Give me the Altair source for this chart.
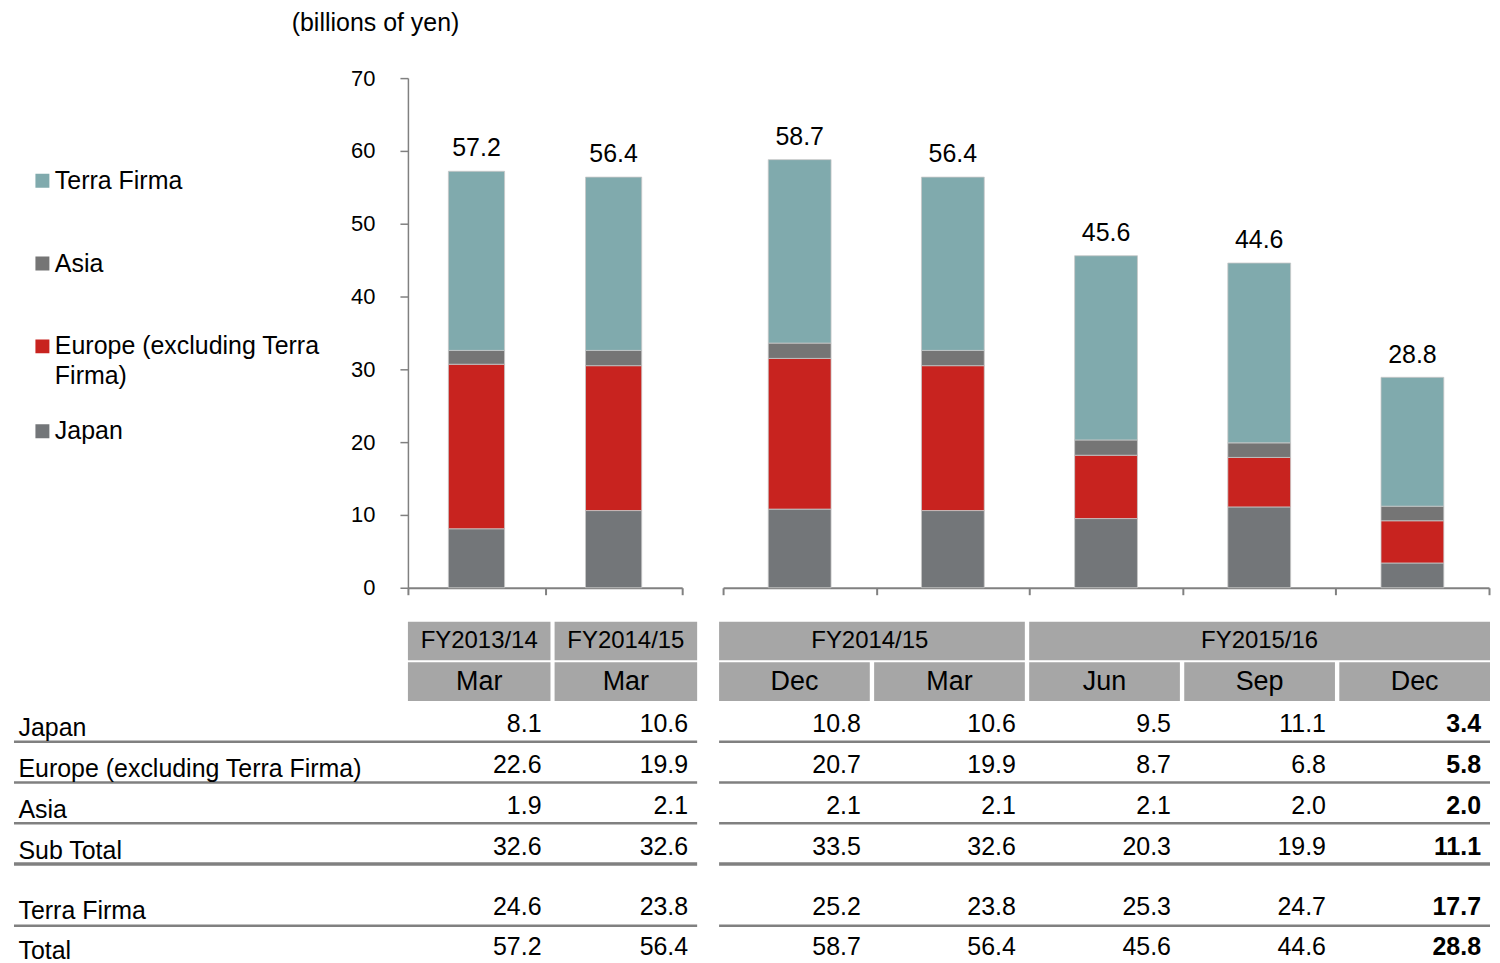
import altair as alt
import pandas as pd

FONT = "Liberation Sans"
GRAY = "#808080"
CELL = "#a6a6a6"
TEXT = "#000000"

# ---------------- data ----------------
fiscal_years = ["FY2013/14", "FY2014/15", "FY2014/15", "FY2014/15", "FY2015/16", "FY2015/16", "FY2015/16"]
months = ["Mar", "Mar", "Dec", "Mar", "Jun", "Sep", "Dec"]
panels = ["L", "L", "R", "R", "R", "R", "R"]
japan = [8.1, 10.6, 10.8, 10.6, 9.5, 11.1, 3.4]
europe = [22.6, 19.9, 20.7, 19.9, 8.7, 6.8, 5.8]
asia = [1.9, 2.1, 2.1, 2.1, 2.1, 2.0, 2.0]
sub_total = [32.6, 32.6, 33.5, 32.6, 20.3, 19.9, 11.1]
terra_firma = [24.6, 23.8, 25.2, 23.8, 25.3, 24.7, 17.7]
total = [57.2, 56.4, 58.7, 56.4, 45.6, 44.6, 28.8]
bold_column = [False, False, False, False, False, False, True]

series_names = ["Japan", "Europe (excluding Terra Firma)", "Asia", "Terra Firma"]  # bottom -> top
series_values = [japan, europe, asia, terra_firma]
series_colors = ["#737679", "#c8231f", "#757575", "#80aaad"]
legend_order = ["Terra Firma", "Asia", "Europe (excluding Terra Firma)", "Japan"]

table_rows = [
    ("Japan", japan),
    ("Europe (excluding Terra Firma)", europe),
    ("Asia", asia),
    ("Sub Total", sub_total),
    ("Terra Firma", terra_firma),
    ("Total", total),
]

# ---------------- tables built from the arrays ----------------
n = len(months)
col_keys = [f"{fiscal_years[i]} {months[i]} #{i}" for i in range(n)]
color_map = dict(zip(series_names, series_colors))


def panel_keys(p):
    return [k for k, q in zip(col_keys, panels) if q == p]


bar_records = []
for i, key in enumerate(col_keys):
    for s_idx, (name, vals) in enumerate(zip(series_names, series_values)):
        bar_records.append(dict(col=key, panel=panels[i], series=name, value=vals[i], stack_order=s_idx))
bar_df = pd.DataFrame(bar_records)
tot_df = pd.DataFrame(dict(col=col_keys, panel=panels, total=total))

val_records = []
for rname, vals in table_rows:
    for i, key in enumerate(col_keys):
        val_records.append(dict(row=rname, col=key, panel=panels[i], text=f"{vals[i]:.1f}", bold=bold_column[i]))
val_df = pd.DataFrame(val_records)

hdr_records = []
for i, key in enumerate(col_keys):
    hdr_records.append(dict(row="hdr2", panel=panels[i], start=key, end=key, label=months[i], anchor=key, band=0.5))
i = 0
while i < n:
    j = i
    while j + 1 < n and fiscal_years[j + 1] == fiscal_years[i] and panels[j + 1] == panels[i]:
        j += 1
    span = col_keys[i:j + 1]
    m = len(span)
    if m % 2:
        anchor, band = span[m // 2], 0.5
    else:
        anchor, band = span[m // 2 - 1], 1.0
    hdr_records.append(dict(row="hdr1", panel=panels[i], start=span[0], end=span[-1],
                            label=fiscal_years[i], anchor=anchor, band=band))
    i = j + 1
hdr_df = pd.DataFrame(hdr_records)


# ---------------- bar panels ----------------
def bar_panel(panel, width, first):
    keys = panel_keys(panel)
    xs = alt.Scale(type="band", domain=keys, paddingInner=0, paddingOuter=0)
    ys = alt.Scale(domain=[0, 70], nice=False)
    xaxis = alt.Axis(title=None, labels=False, tickBand="extent", tickSize=7, tickWidth=2,
                     tickColor=GRAY, domainColor=GRAY, domainWidth=2, grid=False)
    if first:
        yaxis = alt.Axis(values=list(range(0, 71, 10)), title="(billions of yen)", titleAngle=0,
                         titleX=-33, titleY=-56, titleAlign="center", titleBaseline="middle",
                         titleFontSize=25, titleFontWeight="normal", titleColor=TEXT,
                         labelFontSize=22, labelColor=TEXT, labelPadding=25, tickSize=8,
                         tickWidth=1.5, tickColor=GRAY, domainColor=GRAY, domainWidth=1.5, grid=False)
        legend = alt.Legend(title=None, orient="none", legendX=-379, legendY=61.5,
                            symbolType="square", symbolSize=196, symbolStrokeWidth=0,
                            labelFontSize=25, labelColor=TEXT, labelOffset=0, labelLimit=500,
                            clipHeight=83, rowPadding=0, padding=0,
                            labelExpr="datum.label == 'Europe (excluding Terra Firma)' ? "
                                      "['Europe (excluding Terra', 'Firma)'] : datum.label")
    else:
        yaxis = None
        legend = None
    bars = alt.Chart(bar_df[bar_df.panel == panel]).mark_bar(
        width=alt.RelativeBandSize(0.41), stroke="#c8c8c8", strokeWidth=0.8
    ).encode(
        x=alt.X("col:N", scale=xs, axis=xaxis),
        y=alt.Y("value:Q", scale=ys, axis=yaxis, stack="zero"),
        color=alt.Color("series:N", scale=alt.Scale(domain=legend_order,
                                                    range=[color_map[s] for s in legend_order]),
                        legend=legend),
        order=alt.Order("stack_order:Q", sort="ascending"),
    )
    labels = alt.Chart(tot_df[tot_df.panel == panel]).mark_text(
        fontSize=25, color=TEXT, baseline="alphabetic", dy=-15
    ).encode(
        x=alt.X("col:N", scale=xs, axis=xaxis),
        y=alt.Y("total:Q", scale=ys, axis=yaxis),
        text=alt.Text("total:Q", format=".1f"),
    )
    return alt.layer(bars, labels).properties(width=width, height=511)


# ---------------- table panels ----------------
def table_panel(panel, rows, width, height, show_labels, rule_rows, label_offset, text_dy):
    keys = panel_keys(panel)
    xs = alt.Scale(type="band", domain=keys, paddingInner=0.028, paddingOuter=0)
    ys = alt.Scale(type="band", domain=rows, paddingInner=0.05, paddingOuter=0)
    if show_labels:
        yaxis = alt.Axis(title=None, ticks=False, domain=False, labelAlign="left", labelPadding=391,
                         labelFontSize=25, labelColor=TEXT, labelOffset=label_offset, labelLimit=600,
                         labelExpr="indexof(['hdr1','hdr2'], datum.value) >= 0 ? '' : datum.value")
    else:
        yaxis = None
    layers = []
    if "hdr1" in rows:
        hd = hdr_df[hdr_df.panel == panel]
        layers.append(alt.Chart(hd).mark_rect(fill=CELL).encode(
            x=alt.X("start:N", scale=xs, axis=None, bandPosition=0),
            x2=alt.X2("end:N", bandPosition=1),
            y=alt.Y("row:N", scale=ys, axis=yaxis),
        ))
        for (r, b), g in hd.groupby(["row", "band"]):
            fs = 24 if r == "hdr1" else 27
            layers.append(alt.Chart(g).mark_text(fontSize=fs, color=TEXT).encode(
                x=alt.X("anchor:N", scale=xs, axis=None, bandPosition=float(b)),
                y=alt.Y("row:N", scale=ys, axis=yaxis),
                text="label:N",
            ))
    vd = val_df[(val_df.panel == panel) & (val_df.row.isin(rows))]
    for bold in (False, True):
        g = vd[vd.bold == bold]
        if len(g):
            layers.append(alt.Chart(g).mark_text(
                fontSize=25, color=TEXT, align="right", dx=-9, dy=text_dy,
                fontWeight="bold" if bold else "normal",
            ).encode(
                x=alt.X("col:N", scale=xs, axis=None, bandPosition=1),
                y=alt.Y("row:N", scale=ys, axis=yaxis),
                text="text:N",
            ))
    rd = pd.DataFrame({"row": rule_rows})
    x0 = -395 if show_labels else 0
    layers.append(alt.Chart(rd).mark_rule(color=GRAY).encode(
        y=alt.Y("row:N", scale=ys, axis=yaxis, bandPosition=1),
        x=alt.value(x0),
        x2=alt.value(width),
        strokeWidth=alt.condition(alt.datum.row == "Sub Total", alt.value(3.5), alt.value(2.5)),
    ))
    return alt.layer(*layers).properties(width=width, height=height)


rows1 = ["hdr1", "hdr2", "Japan", "Europe (excluding Terra Firma)", "Asia", "Sub Total"]
rules1 = ["Japan", "Europe (excluding Terra Firma)", "Asia", "Sub Total"]
rows2 = ["Terra Firma", "Total"]
rules2 = ["Terra Firma"]

WL_BAR, WR_BAR = 275, 768
WL_TAB, WR_TAB = 290, 773

top = alt.hconcat(bar_panel("L", WL_BAR, True), bar_panel("R", WR_BAR, False),
                  spacing=41, bounds="flush").resolve_scale(color="independent")
t1 = alt.hconcat(table_panel("L", rows1, WL_TAB, 243, True, rules1, 6, 2),
                 table_panel("R", rows1, WR_TAB, 243, False, rules1, 6, 2),
                 spacing=22, bounds="flush")
t2 = alt.hconcat(table_panel("L", rows2, WL_TAB, 78, True, rules2, 4, 0),
                 table_panel("R", rows2, WR_TAB, 78, False, rules2, 4, 0),
                 spacing=22, bounds="flush")
tables = alt.vconcat(t1, t2, spacing=22)

chart = alt.vconcat(top, tables, spacing=23).properties(
    padding={"left": 4, "top": 1, "right": 0, "bottom": 0}
).configure(
    font=FONT, style={"guide-label": {"lineHeight": 30}}
).configure_view(strokeWidth=0)

chart.save("out.html", embed_options={"renderer": "svg", "actions": False})
